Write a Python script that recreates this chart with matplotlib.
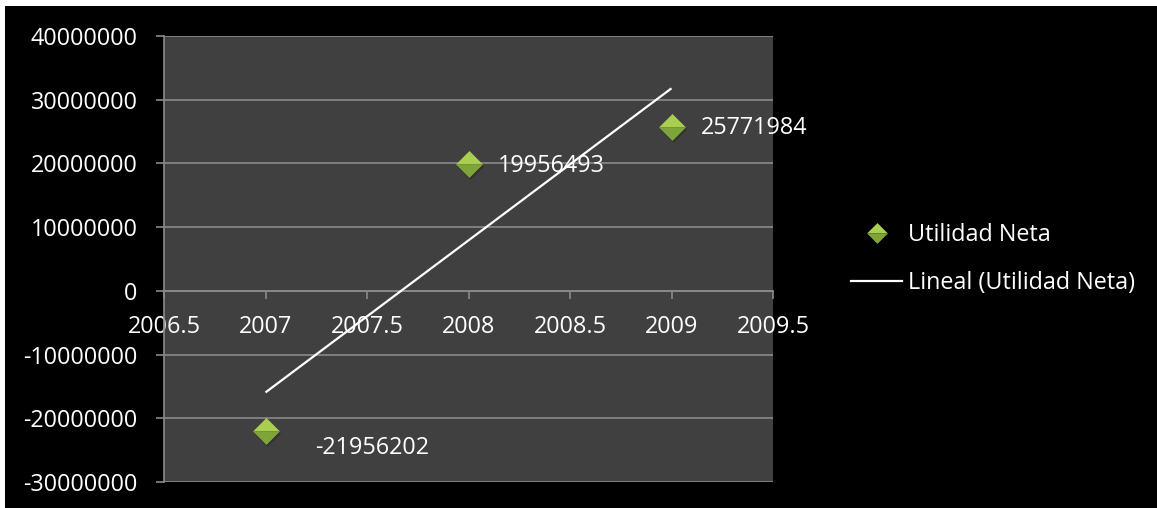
import matplotlib
matplotlib.use("Agg")
import matplotlib.pyplot as plt
import numpy as np
from matplotlib.lines import Line2D
from matplotlib.legend_handler import HandlerTuple
from matplotlib.patches import Rectangle
from matplotlib.path import Path
from matplotlib.transforms import offset_copy

# Net income per year
years = [2007, 2008, 2009]
utilidad_neta = [-21956202, 19956493, 25771984]
series_name = "Utilidad Neta"
trend_name = "Lineal (Utilidad Neta)"
y_ticks = [-30000000, -20000000, -10000000, 0, 10000000, 20000000, 30000000, 40000000]
x_ticks = [2006.5, 2007, 2007.5, 2008, 2008.5, 2009, 2009.5]

FONT = "Open Sans"
FS = 16.8
GRID = "#8a8a8a"
PLOT_BG = "#404040"
TOP_GREEN = "#a9cf50"
BOT_GREEN = "#7ea43a"

fig = plt.figure(figsize=(11.57, 5.08), dpi=100)
fig.patch.set_facecolor("white")
W, H = 1157, 508
fig.add_artist(Rectangle((5 / W, 0), 1 - 5 / W, 1 - 6 / H,
                         transform=fig.transFigure, facecolor="black",
                         edgecolor="none", zorder=-10))

ax = fig.add_axes([164 / W, 1 - 482 / H, (773 - 164) / W, (482 - 36) / H])
ax.set_facecolor(PLOT_BG)
ax.set_xlim(2006.5, 2009.5)
ax.set_ylim(-30000000, 40000000)

# Diamond halves for a two-tone marker
top_half = Path([(-1, 0), (0, 1), (1, 0), (-1, 0)], closed=True)
bottom_half = Path([(-1, 0), (0, -1), (1, 0), (-1, 0)], closed=True)
diamond = Path([(-1, 0), (0, 1), (1, 0), (0, -1), (-1, 0)], closed=True)

ax.yaxis.grid(True, color=GRID, linewidth=1.2, zorder=0)
ax.set_axisbelow(True)

# Linear trend line (least squares)
slope, intercept = np.polyfit(years, utilidad_neta, 1)
trend_x = np.array([years[0], years[-1]])
ax.plot(trend_x, slope * trend_x + intercept, color="white", linewidth=1.6,
        zorder=3, solid_capstyle="butt")

# Markers: soft shadow + two-tone diamond
ms = 19.4
shadow_tr = offset_copy(ax.transData, fig=fig, x=0.8, y=-1.5, units="points")
ax.plot(years, utilidad_neta, linestyle="none", marker=diamond, markersize=ms,
        markerfacecolor="black", markeredgecolor="none", alpha=0.22,
        transform=shadow_tr, zorder=4)
ax.plot(years, utilidad_neta, linestyle="none", marker=top_half, markersize=ms,
        markerfacecolor=TOP_GREEN, markeredgecolor="none", zorder=5)
ax.plot(years, utilidad_neta, linestyle="none", marker=bottom_half, markersize=ms,
        markerfacecolor=BOT_GREEN, markeredgecolor="none", zorder=5)

# Value labels
label_offsets = [(36, -12.5), (21, -1.5), (21.5, -0.8)]
for x, y, (dx, dy) in zip(years, utilidad_neta, label_offsets):
    ax.annotate(f"{y}", (x, y), xytext=(dx, dy), textcoords="offset points",
                ha="left", va="center", color="white", fontsize=FS,
                family=FONT, annotation_clip=False, zorder=6)

# Axes styling
for side in ("top", "right"):
    ax.spines[side].set_visible(False)
ax.spines["left"].set_color(GRID)
ax.spines["left"].set_linewidth(1.2)
ax.spines["bottom"].set_position(("data", 0))
ax.spines["bottom"].set_color(GRID)
ax.spines["bottom"].set_linewidth(1.2)

ax.set_yticks(y_ticks)
ax.set_yticklabels([str(v) for v in y_ticks])
ax.set_xticks(x_ticks)
ax.set_xticklabels([f"{v:g}" for v in x_ticks])
ax.tick_params(axis="y", direction="out", length=6, width=1.2, color=GRID,
               pad=13, labelcolor="white", labelsize=FS)
ax.tick_params(axis="x", direction="out", length=6, width=1.2, color=GRID,
               pad=11.5, labelcolor="white", labelsize=FS)
for lab in ax.get_xticklabels() + ax.get_yticklabels():
    lab.set_family(FONT)

# Legend
leg_top = Line2D([], [], linestyle="none", marker=top_half, markersize=15,
                 markerfacecolor=TOP_GREEN, markeredgecolor="none")
leg_bot = Line2D([], [], linestyle="none", marker=bottom_half, markersize=15,
                 markerfacecolor=BOT_GREEN, markeredgecolor="none")
leg_line = Line2D([], [], color="white", linewidth=1.6)
leg = fig.legend([(leg_top, leg_bot), leg_line], [series_name, trend_name],
                 handler_map={tuple: HandlerTuple(ndivide=1, pad=0)},
                 loc="center left", bbox_to_anchor=(851 / W, 1 - 259 / H),
                 frameon=False, handlelength=2.2,
                 handletextpad=0.25, labelspacing=1.05, borderpad=0,
                 borderaxespad=0, prop={"family": FONT, "size": FS})
for t in leg.get_texts():
    t.set_color("white")

fig.savefig("out.png", dpi=100, facecolor=fig.get_facecolor())
